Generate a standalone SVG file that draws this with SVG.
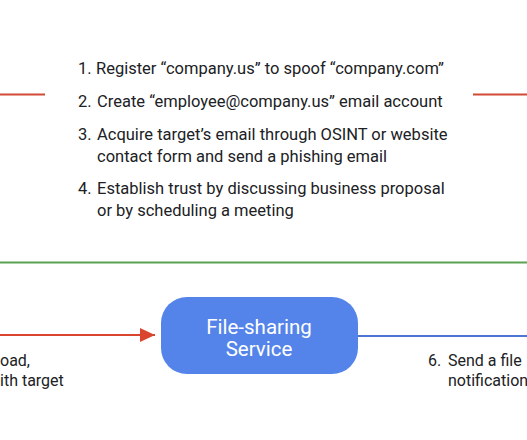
<svg xmlns="http://www.w3.org/2000/svg" width="527" height="440" viewBox="0 0 527 440">
<style>
.t{font-family:Roboto,"Liberation Sans",sans-serif;font-size:16px;fill:#202124}
.s{font-size:16.5px}
.n{font-family:Roboto,"Liberation Sans",sans-serif;font-size:20.5px;fill:#ffffff;text-anchor:middle}
</style>
<defs>
<marker id="ar" markerWidth="16" markerHeight="14" refX="15" refY="7" orient="auto" markerUnits="userSpaceOnUse">
<path d="M0,0 L15,7 L0,14 Z" fill="#d9452f"/>
</marker>
</defs>
<rect width="527" height="440" fill="#ffffff"/>
<g id="connectors">
<line x1="0" y1="94.5" x2="45" y2="94.5" stroke="#d24a35" stroke-width="2"/>
<line x1="473" y1="94.5" x2="527" y2="94.5" stroke="#d24a35" stroke-width="2"/>
<line x1="0" y1="262.5" x2="527" y2="262.5" stroke="#5ba152" stroke-width="2"/>
<line x1="0" y1="335" x2="155" y2="335" stroke="#d9452f" stroke-width="2" marker-end="url(#ar)"/>
<line x1="358" y1="336" x2="527" y2="336" stroke="#4e74d6" stroke-width="2"/>
</g>
<g id="steps">
<text class="t s" x="78" y="74">1.</text><text class="t s" x="96" y="74">Register “company.us” to spoof “company.com”</text>
<text class="t s" x="78" y="107">2.</text><text class="t s" x="97" y="107">Create “employee@company.us” email account</text>
<text class="t s" x="78" y="140">3.</text><text class="t s" x="97" y="140">Acquire target’s email through OSINT or website</text>
<text class="t s" x="97" y="162">contact form and send a phishing email</text>
<text class="t s" x="78" y="194">4.</text><text class="t s" x="97" y="194">Establish trust by discussing business proposal</text>
<text class="t s" x="97" y="216">or by scheduling a meeting</text>
</g>
<g id="label-left">
<text class="t" x="0" y="366">oad,</text>
<text class="t" x="0" y="386">ith target</text>
</g>
<g id="node-file-sharing">
<rect x="161" y="297" width="197" height="77" rx="26" fill="#5484ea"/>
<text class="n" x="259" y="334">File-sharing</text>
<text class="n" x="259" y="356">Service</text>
</g>
<g id="label-right">
<text class="t" x="428" y="366">6.</text><text class="t" x="448" y="366">Send a file</text>
<text class="t" x="448" y="386">notification</text>
</g>
</svg>
